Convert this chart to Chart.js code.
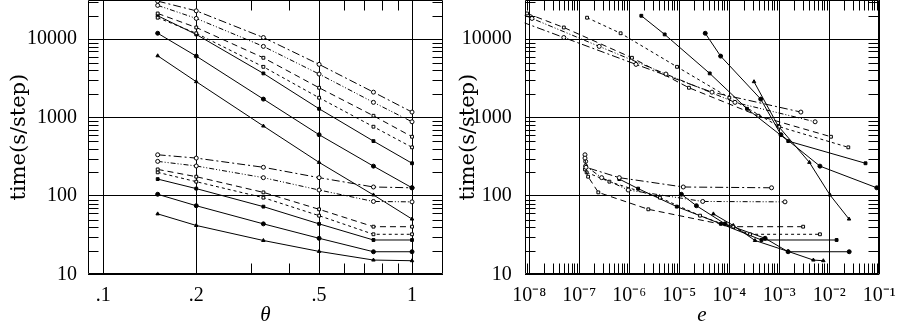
<!DOCTYPE html>
<html lang="en">
<head>
  <meta charset="UTF-8" />
  <title>Time per step vs opening angle and force error</title>
  <script src="https://cdn.jsdelivr.net/npm/chart.js"></script>
  <style>
    html, body {
      margin: 0;
      padding: 0;
      background: #fff;
      overflow: hidden;
    }
    .panel {
      position: absolute;
      top: 0;
      width: 450px;
      height: 323px;
    }
    #left { left: 0; }
    #right { left: 450px; }
  </style>
</head>
<body>
  <div class="panel" id="left"><canvas id="thetaChart"></canvas></div>
  <div class="panel" id="right"><canvas id="errorChart"></canvas></div>

  <script>
    // opening angle of each run in a family
    const theta = [0.15, 0.2, 0.33, 0.5, 0.75, 1.0];

    // time per step (s), slow family
    const timeU1 = [30600, 23000, 10500, 4770, 2110, 1175];
    const timeU2 = [27000, 18400, 8090, 3590, 1563, 883];
    const timeU3 = [21300, 14100, 5790, 2400, 1054, 569];
    const timeU4 = [18800, 11900, 4440, 1790, 764, 417];
    const timeU5 = [19900, 11500, 3660, 1295, 501, 261];
    const timeU6 = [11900, 6080, 1720, 604, 240, 127];
    const timeU7 = [6140, 2870, 780, 268, 103, 50.7];

    // time per step (s), fast family
    const timeL1 = [335, 304, 232, 171, 130, 127];
    const timeL2 = [276, 241, 171, 119, 85, 84];
    const timeL3 = [218, 176, 111, 67.5, 40.5, 40.5];
    const timeL4 = [200, 152, 95, 56, 32.4, 32.4];
    const timeL5 = [164, 124, 73, 44, 27.4, 27.4];
    const timeL6 = [105, 75, 44, 28.8, 19.4, 19.4];
    const timeL7 = [59, 42, 27, 19.6, 15.2, 14.9];

    // force error e of the same runs (null = not plotted)
    const errU1 = [5.4e-10, 1.8e-9, 4.9e-8, 1.36e-6, 4.5e-5, 2.7e-3];
    const errU2 = [2.6e-9, 1.13e-8, 2.5e-7, 5.4e-6, 1.3e-4, 5.2e-3];
    const errU3 = [9.0e-9, 4.9e-8, 1.13e-6, 1.56e-5, 3.8e-4, 1.08e-2];
    const errU4 = [1.43e-7, 6.7e-7, 9.0e-6, 1.0e-4, 1.0e-3, 2.4e-2];
    const errU5 = [1.74e-6, 5.1e-6, 4.06e-5, 2.26e-4, 1.51e-3, 5.3e-2];
    const errU6 = [3.3e-5, 6.7e-5, 4.25e-4, 1.08e-3, 6.5e-3, 8.9e-2];
    const errU7 = [null, 3.12e-4, 9.5e-4, 4.0e-3, 1.03e-2, 2.48e-2];

    const errL1 = [1.3e-7, 1.3e-7, 1.36e-7, 6.3e-7, 1.2e-5, 7.0e-4];
    const errL2 = [1.34e-7, 1.34e-7, 2.8e-7, 9.5e-7, 2.94e-5, 1.3e-3];
    const errL3 = [1.3e-7, 1.5e-7, 2.4e-7, 2.4e-6, 1.2e-4, 3.0e-3];
    const errL4 = [1.4e-7, 4.0e-7, 4.1e-6, 2.6e-5, 2.6e-4, 6.5e-3];
    const errL5 = [6.3e-7, 1.5e-6, 8.9e-6, 6.8e-5, 4.4e-4, 1.4e-2];
    const errL6 = [1.1e-5, 2.2e-5, 8.2e-5, 5.2e-4, 1.5e-3, 2.5e-2];
    const errL7 = [4.8e-5, 1.2e-4, 3.27e-4, 1.5e-3, 4.8e-3, 7.6e-3];

    // axis ticks
    const timeTicks = [10, 100, 1000, 10000];
    const thetaTicks = [0.1, 0.2, 0.5, 1];
    const thetaTickLabels = ['.1', '.2', '.5', '1'];
    const errTicks = [1e-8, 1e-7, 1e-6, 1e-5, 1e-4, 1e-3, 1e-2, 1e-1];
    const errTickLabels = ['10⁻⁸', '10⁻⁷', '10⁻⁶', '10⁻⁵', '10⁻⁴', '10⁻³', '10⁻²', '10⁻¹'];

    const slowTimes = [timeU1, timeU2, timeU3, timeU4, timeU5, timeU6, timeU7];
    const fastTimes = [timeL1, timeL2, timeL3, timeL4, timeL5, timeL6, timeL7];
    const slowErrs = [errU1, errU2, errU3, errU4, errU5, errU6, errU7];
    const fastErrs = [errL1, errL2, errL3, errL4, errL5, errL6, errL7];

    // line / marker style, one per run index
    const lineStyles = [
      { dash: [8, 3, 2, 3], point: 'circle', filled: false },
      { dash: [5, 2, 1, 2, 1, 2], point: 'circle', filled: false },
      { dash: [6, 4], point: 'rect', filled: false },
      { dash: [3, 3], point: 'rect', filled: false },
      { dash: [], point: 'rect', filled: true },
      { dash: [], point: 'circle', filled: true },
      { dash: [], point: 'triangle', filled: true }
    ];

    Chart.defaults.font.family = "'Liberation Serif', serif";
    Chart.defaults.color = '#000';

    function buildSets(xFor) {
      const sets = [];
      [[slowTimes, slowErrs], [fastTimes, fastErrs]].forEach(([times, errs]) => {
        times.forEach((t, k) => {
          const st = lineStyles[k];
          const pts = t
            .map((v, i) => ({ x: xFor(errs[k], i), y: v }))
            .filter(p => p.x != null);
          sets.push({
            data: pts,
            showLine: true,
            borderColor: '#000',
            borderWidth: 1,
            borderDash: st.dash,
            pointStyle: st.point,
            pointRadius: 2,
            pointBorderWidth: 1,
            pointBorderColor: '#000',
            pointBackgroundColor: st.filled ? '#000' : '#fff'
          });
        });
      });
      return sets;
    }

    // minor ticks on all four sides plus the box around the plot
    const frameTicks = {
      id: 'frameTicks',
      afterDatasetsDraw(chart, args, opts) {
        const { ctx, chartArea: a, scales: { x, y } } = chart;
        const l = Math.round(a.left) + 0.5, r = Math.round(a.right) - 0.5;
        const t = Math.round(a.top) + 0.5, b = Math.round(a.bottom) - 0.5;
        ctx.save();
        ctx.strokeStyle = '#000';
        ctx.lineWidth = 1;
        ctx.setLineDash([]);
        ctx.beginPath();
        opts.xMinor.forEach(v => {
          const p = Math.round(x.getPixelForValue(v)) + 0.5;
          ctx.moveTo(p, t); ctx.lineTo(p, t + opts.len);
          ctx.moveTo(p, b); ctx.lineTo(p, b - opts.len);
        });
        opts.yMinor.forEach(v => {
          const p = Math.round(y.getPixelForValue(v)) + 0.5;
          ctx.moveTo(l, p); ctx.lineTo(l + opts.len, p);
          ctx.moveTo(r, p); ctx.lineTo(r - opts.len, p);
        });
        ctx.rect(l, t, r - l, b - t);
        ctx.stroke();
        ctx.restore();
      }
    };

    function decadeMinors(fromExp, toExp, lo, hi) {
      const out = [];
      for (let n = fromExp; n <= toExp; n++) {
        for (let k = 2; k <= 9; k++) {
          const v = k * Math.pow(10, n);
          if (v >= lo && v <= hi) out.push(v);
        }
      }
      return out;
    }

    const yMin = 10, yMax = 31623;
    const timeMinor = decadeMinors(1, 4, yMin, yMax);

    function noPad(s) {
      s.paddingLeft = s.paddingRight = s.paddingTop = s.paddingBottom = 0;
    }

    function timeAxis(width, labelPad, titlePad) {
      return {
        type: 'logarithmic',
        min: yMin,
        max: yMax,
        afterBuildTicks: s => { s.ticks = timeTicks.map(v => ({ value: v })); },
        afterFit: s => { s.width = width; noPad(s); },
        grid: { color: '#000', lineWidth: 1, drawTicks: false },
        border: { display: false },
        ticks: {
          padding: labelPad,
          autoSkip: false,
          font: { size: 20 },
          callback: v => String(v)
        },
        title: {
          display: true,
          text: 'time(s/step)',
          font: { family: "'DejaVu Serif', serif", size: 21 },
          padding: { top: titlePad, bottom: 0 }
        }
      };
    }

    function bottomAxis(min, max, ticks, labels, title) {
      return {
        type: 'logarithmic',
        min: min,
        max: max,
        afterBuildTicks: s => { s.ticks = ticks.map(v => ({ value: v })); },
        afterFit: s => { s.height = 48.7; noPad(s); },
        grid: { color: '#000', lineWidth: 1, drawTicks: false },
        border: { display: false },
        ticks: {
          padding: 9,
          autoSkip: false,
          maxRotation: 0,
          font: { size: 20 },
          callback: (v, i) => labels[i]
        },
        title: {
          display: true,
          text: title,
          font: { size: 21, style: 'italic', lineHeight: '16px' },
          padding: { top: 0, bottom: 0 }
        }
      };
    }

    const common = {
      responsive: true,
      maintainAspectRatio: false,
      animation: false,
      events: [],
      plugins: { legend: { display: false }, tooltip: { enabled: false } }
    };

    new Chart(document.getElementById('thetaChart'), {
      type: 'scatter',
      data: { datasets: buildSets((e, i) => theta[i]) },
      options: {
        ...common,
        layout: { autoPadding: false, padding: { left: 0, right: 7, top: 0, bottom: 0 } },
        scales: {
          x: bottomAxis(0.0892, 1.26, thetaTicks, thetaTickLabels, 'θ'),
          y: timeAxis(88, 11, 7)
        },
        plugins: {
          ...common.plugins,
          frameTicks: { len: 10, xMinor: [0.3, 0.4, 0.6, 0.7, 0.8, 0.9], yMinor: timeMinor }
        }
      },
      plugins: [frameTicks]
    });

    const eMin = Math.pow(10, -8.092), eMax = 0.1;
    new Chart(document.getElementById('errorChart'), {
      type: 'scatter',
      data: { datasets: buildSets((e, i) => e[i]) },
      options: {
        ...common,
        layout: { autoPadding: false, padding: { left: 0, right: 20.7, top: 0, bottom: 0 } },
        scales: {
          x: bottomAxis(eMin, eMax, errTicks, errTickLabels, 'e'),
          y: timeAxis(74.7, 13, 6)
        },
        plugins: {
          ...common.plugins,
          frameTicks: { len: 10, xMinor: decadeMinors(-9, -2, eMin, eMax), yMinor: timeMinor }
        }
      },
      plugins: [frameTicks]
    });
  </script>
</body>
</html>
